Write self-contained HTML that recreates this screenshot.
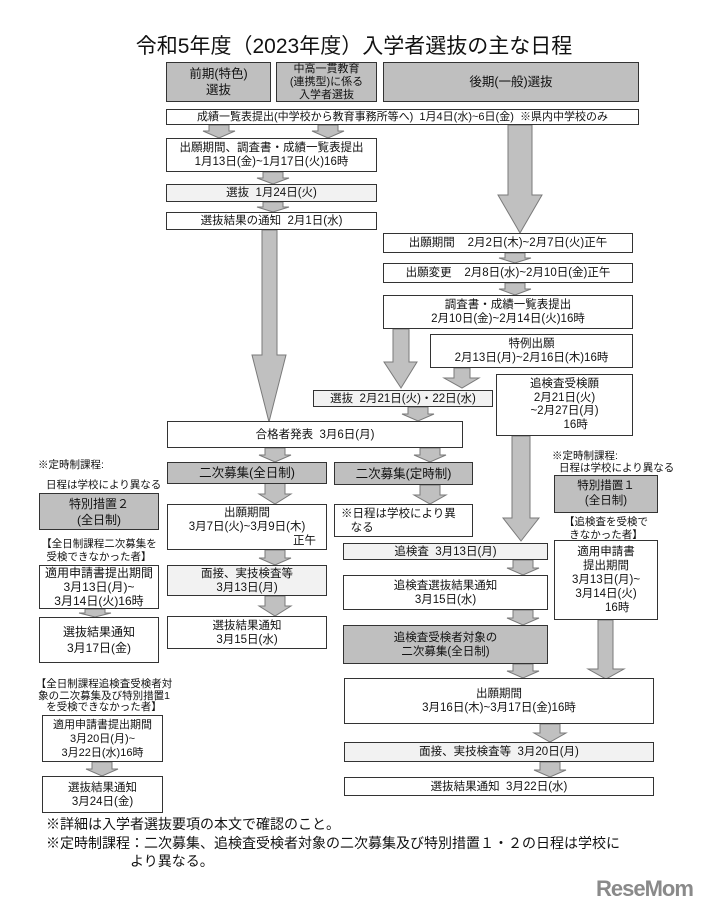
<!DOCTYPE html>
<html><head><meta charset="utf-8"><style>
body{margin:0;background:#fff;}
#c{position:relative;width:705px;height:912px;overflow:hidden;font-family:"Liberation Sans","Noto Sans CJK JP",sans-serif;color:#111;}
.b{position:absolute;box-sizing:border-box;border:1px solid #333;background:#fff;display:flex;flex-direction:column;justify-content:center;align-items:center;text-align:center;font-size:11.5px;line-height:14px;white-space:nowrap;}
.d{background:#bfbfbf;}
.l{background:#f2f2f2;}
.t{position:absolute;font-size:11px;line-height:13px;white-space:nowrap;}
svg{position:absolute;left:0;top:0;}
</style></head><body><div id="c">
<svg width="705" height="912">
<g fill="#c0c0c0" stroke="#7a7a7a" stroke-width="1">
<polygon points="209,125 229,125 229,131 235,131 219,138 203,131 209,131"/>
<polygon points="318,125 338,125 338,131 344,131 328,138 312,131 318,131"/>
<polygon points="263,172 283,172 283,178 289,178 273,184 257,178 263,178"/>
<polygon points="263,202 283,202 283,207 289,207 273,212 257,207 263,207"/>
<polygon points="508,125 532,125 532,195 542,195 520,233 498,195 508,195"/>
<polygon points="505,253 525,253 525,258 531,258 515,263 499,258 505,258"/>
<polygon points="505,283 525,283 525,289 531,289 515,295 499,289 505,289"/>
<polygon points="393,329 409,329 409,362 417,362 401,388 384,362 393,362"/>
<polygon points="454,368 470,368 470,378 479,378 462,388 444,378 454,378"/>
<polygon points="408,407 428,407 428,414 434,414 418,421 402,414 408,414"/>
<polygon points="262,230 277,230 277,355 286,355 269,422 252,355 262,355"/>
<polygon points="265,448 285,448 285,455 291,455 275,462 259,455 265,455"/>
<polygon points="420,448 440,448 440,455 446,455 430,462 414,455 420,455"/>
<polygon points="265,483 285,483 285,494 291,494 275,504 259,494 265,494"/>
<polygon points="420,485 440,485 440,495 446,495 430,504 414,495 420,495"/>
<polygon points="265,550 285,550 285,558 291,558 275,565 259,558 265,558"/>
<polygon points="265,596 285,596 285,606 291,606 275,616 259,606 265,606"/>
<polygon points="512,436 530,436 530,518 539,518 521,541 503,518 512,518"/>
<polygon points="513,560 533,560 533,568 539,568 523,575 507,568 513,568"/>
<polygon points="513,610 533,610 533,618 539,618 523,625 507,618 513,618"/>
<polygon points="513,664 533,664 533,671 539,671 523,678 507,671 513,671"/>
<polygon points="598,620 613,620 613,669 624,669 606,679 588,669 598,669"/>
<polygon points="540,724 560,724 560,733 566,733 550,742 534,733 540,733"/>
<polygon points="540,762 560,762 560,770 566,770 550,777 534,770 540,770"/>
<polygon points="85,609 105,609 105,613 111,613 95,617 79,613 85,613"/>
<polygon points="92,762 112,762 112,769 118,769 102,776 86,769 92,769"/>
</g>
</svg>

<div class="t" style="left:0;width:708px;top:35px;text-align:center;font-size:21px;line-height:24px;">令和5年度（2023年度）入学者選抜の主な日程</div>

<div class="b d" style="left:166px;top:62px;width:105px;height:40px;font-size:12.5px;line-height:16px;">前期(特色)<br>選抜</div>
<div class="b d" style="left:276px;top:62px;width:101px;height:40px;font-size:11px;line-height:13px;">中高一貫教育<br>(連携型)に係る<br>入学者選抜</div>
<div class="b d" style="left:383px;top:62px;width:256px;height:40px;font-size:12.5px;">後期(一般)選抜</div>

<div class="b" style="left:166px;top:109px;width:473px;height:16px;font-size:11px;">成績一覧表提出(中学校から教育事務所等へ)&nbsp; 1月4日(水)~6日(金)&nbsp; ※県内中学校のみ</div>
<div class="b" style="left:166px;top:138px;width:211px;height:34px;">出願期間、調査書・成績一覧表提出<br>1月13日(金)~1月17日(火)16時</div>
<div class="b l" style="left:166px;top:184px;width:211px;height:18px;">選抜&nbsp; 1月24日(火)</div>
<div class="b" style="left:166px;top:212px;width:211px;height:18px;">選抜結果の通知&nbsp; 2月1日(水)</div>

<div class="b" style="left:383px;top:233px;width:250px;height:20px;">出願期間&nbsp;&nbsp;&nbsp; 2月2日(木)~2月7日(火)正午</div>
<div class="b" style="left:383px;top:263px;width:250px;height:20px;">出願変更&nbsp;&nbsp;&nbsp; 2月8日(水)~2月10日(金)正午</div>
<div class="b" style="left:383px;top:295px;width:250px;height:34px;">調査書・成績一覧表提出<br>2月10日(金)~2月14日(火)16時</div>
<div class="b" style="left:430px;top:334px;width:203px;height:34px;">特例出願<br>2月13日(月)~2月16日(木)16時</div>
<div class="b" style="left:496px;top:374px;width:137px;height:62px;line-height:13.5px;">追検査受検願<br>2月21日(火)<br>~2月27日(月)<br>&nbsp;&nbsp;&nbsp;&nbsp;&nbsp;&nbsp;&nbsp;16時</div>
<div class="b l" style="left:313px;top:390px;width:180px;height:17px;">選抜&nbsp; 2月21日(火)・22日(水)</div>
<div class="b" style="left:167px;top:421px;width:296px;height:27px;">合格者発表&nbsp; 3月6日(月)</div>

<div class="t" style="left:38px;top:459px;font-size:10.5px;">※定時制課程:</div>
<div class="t" style="left:46px;top:479px;font-size:10.5px;">日程は学校により異なる</div>
<div class="b d" style="left:39px;top:493px;width:120px;height:37px;font-size:12px;line-height:16px;">特別措置２<br>(全日制)</div>
<div class="t" style="left:34px;top:538px;width:130px;text-align:center;line-height:13px;font-size:10.5px;">【全日制課程二次募集を<br>受検できなかった者】</div>
<div class="b" style="left:39px;top:565px;width:120px;height:44px;font-size:12px;">適用申請書提出期間<br>3月13日(月)~<br>3月14日(火)16時</div>
<div class="b" style="left:39px;top:617px;width:120px;height:46px;font-size:12px;line-height:16px;">選抜結果通知<br>3月17日(金)</div>

<div class="b d" style="left:167px;top:462px;width:160px;height:22px;font-size:12.5px;">二次募集(全日制)</div>
<div class="b" style="left:167px;top:504px;width:160px;height:46px;font-size:11.5px;">出願期間<br>3月7日(火)~3月9日(木)<br><span style="align-self:flex-end;padding-right:10px;">正午</span></div>
<div class="b l" style="left:167px;top:565px;width:160px;height:31px;">面接、実技検査等<br>3月13日(月)</div>
<div class="b" style="left:167px;top:616px;width:160px;height:33px;">選抜結果通知<br>3月15日(水)</div>

<div class="b d" style="left:334px;top:462px;width:139px;height:23px;font-size:12.5px;">二次募集(定時制)</div>
<div class="b" style="left:334px;top:504px;width:139px;height:33px;align-items:flex-start;text-align:left;padding-left:6px;">※日程は学校により異<br>&nbsp;&nbsp;&nbsp;なる</div>

<div class="t" style="left:552px;top:450px;font-size:10.5px;">※定時制課程:</div>
<div class="t" style="left:559px;top:462px;font-size:10.5px;">日程は学校により異なる</div>
<div class="b d" style="left:554px;top:475px;width:104px;height:38px;font-size:11.5px;line-height:15px;">特別措置１<br>(全日制)</div>
<div class="t" style="left:550px;top:516px;width:112px;text-align:center;line-height:13px;font-size:10.5px;">【追検査を受検で<br>きなかった者】</div>
<div class="b" style="left:554px;top:540px;width:104px;height:80px;line-height:14px;">適用申請書<br>提出期間<br>3月13日(月)~<br>3月14日(火)<br>&nbsp;&nbsp;&nbsp;&nbsp;&nbsp;&nbsp;&nbsp;16時</div>

<div class="b l" style="left:343px;top:543px;width:205px;height:17px;">追検査&nbsp; 3月13日(月)</div>
<div class="b" style="left:343px;top:575px;width:205px;height:35px;">追検査選抜結果通知<br>3月15日(水)</div>
<div class="b d" style="left:343px;top:625px;width:205px;height:39px;">追検査受検者対象の<br>二次募集(全日制)</div>

<div class="b" style="left:344px;top:678px;width:310px;height:46px;">出願期間<br>3月16日(木)~3月17日(金)16時</div>
<div class="b l" style="left:344px;top:742px;width:310px;height:20px;">面接、実技検査等&nbsp; 3月20日(月)</div>
<div class="b" style="left:344px;top:777px;width:310px;height:19px;">選抜結果通知&nbsp; 3月22日(水)</div>

<div class="t" style="left:34px;top:679px;width:140px;text-align:center;font-size:10.5px;line-height:11.5px;">【全日制課程追検査受検者対<br>象の二次募集及び特別措置1<br>を受検できなかった者】</div>
<div class="b" style="left:42px;top:715px;width:121px;height:47px;font-size:11px;line-height:14px;">適用申請書提出期間<br>3月20日(月)~<br>3月22日(水)16時</div>
<div class="b" style="left:42px;top:776px;width:121px;height:37px;">選抜結果通知<br>3月24日(金)</div>

<div class="t" style="left:46px;top:815px;font-size:14px;line-height:18px;">※詳細は入学者選抜要項の本文で確認のこと。</div>
<div class="t" style="left:46px;top:834px;font-size:14px;line-height:18px;">※定時制課程：二次募集、追検査受検者対象の二次募集及び特別措置１・２の日程は学校に</div>
<div class="t" style="left:130px;top:852px;font-size:14px;line-height:18px;">より異なる。</div>

<div class="t" style="left:596px;top:876px;font-size:22px;line-height:26px;font-weight:bold;color:#8a8a8a;letter-spacing:-1px;">ReseMom</div>
</div></body></html>
